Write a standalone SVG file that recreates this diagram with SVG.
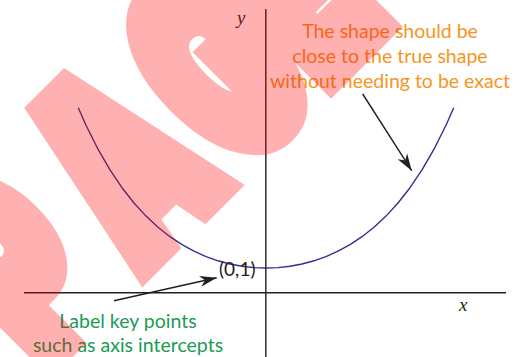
<svg xmlns="http://www.w3.org/2000/svg" width="519" height="357" viewBox="0 0 519 357">
<style>
.axis{stroke:#231f20;stroke-width:1.4;fill:none}
.curve{stroke:#2e3192;stroke-width:1.4;fill:none;stroke-linejoin:round;stroke-linecap:round}
.arrow{stroke:#231f20;stroke-width:1.4;fill:none}
.var{font-family:"Liberation Serif",serif;font-style:italic;font-size:19px;fill:#231f20}
.note{font-family:Lato,"Open Sans",sans-serif;font-size:19.5px;text-anchor:middle}
.orange{fill:#f7941d}
.green{fill:#1b9b55}
.pt{font-family:Lato,"Open Sans",sans-serif;font-size:19px;fill:#231f20}
.wm{font-family:Inter,"Liberation Sans",sans-serif;font-weight:900;font-size:248px;fill:#ff0000;stroke:#ff0000;stroke-width:30;stroke-linejoin:miter;stroke-miterlimit:3}
</style>
<defs>
<marker id="head" viewBox="-17 -6 18 12" markerWidth="18" markerHeight="12" refX="0" refY="0" orient="auto" markerUnits="userSpaceOnUse">
<path d="M0,0 L-17,-5.5 L-12,0 L-17,5.5 Z" fill="#231f20"/>
</marker>
</defs>
<g id="axes">
<line class="axis" x1="24" y1="292.7" x2="506" y2="292.7"/>
<line class="axis" x1="265.8" y1="9" x2="265.8" y2="357"/>
<text class="var" x="237" y="24">y</text>
<text class="var" x="459" y="311">x</text>
</g>
<g id="curve">
<path class="curve" d="M78.5,108.3 L86,125.2 L98,149.2 L110,169.9 L122,187.7 L134,203 L146,216.1 L158,227.3 L170,236.7 L182,244.7 L194,251.1 L206,256.6 L218,260.8 L230,264 L242,266.2 L254,267.6 L266,268 L278,267.6 L290,266.2 L302,264 L314,260.8 L326,256.6 L338,251.1 L350,244.7 L362,236.7 L374,227.3 L386,216.1 L398,203 L410,187.7 L422,169.9 L434,149.2 L446,125.2 L453.5,108.3"/>
</g>
<g id="point-label">
<text class="pt" x="219" y="276">(0,1)</text>
</g>
<g id="note-shape">
<text class="note orange" x="390" y="38">The shape should be</text>
<text class="note orange" x="390" y="62.7">close to the true shape</text>
<text class="note orange" x="390" y="87.5">without needing to be exact</text>
</g>
<g id="note-points">
<text class="note green" x="128" y="328">Label key points</text>
<text class="note green" x="128" y="351.7">such as axis intercepts</text>
</g>
<g id="connectors">
<line class="arrow" x1="362.7" y1="94" x2="411.7" y2="170.7" marker-end="url(#head)"/>
<line class="arrow" x1="114" y1="300.7" x2="216.7" y2="277.7" marker-end="url(#head)"/>
</g>
<g id="watermark" opacity="0.3">
<text class="wm" transform="translate(42.1,366.6) rotate(-45) scale(0.637,1)" x="0 214.2 432.9 621.6" y="0">PAGE</text>
</g>
</svg>
